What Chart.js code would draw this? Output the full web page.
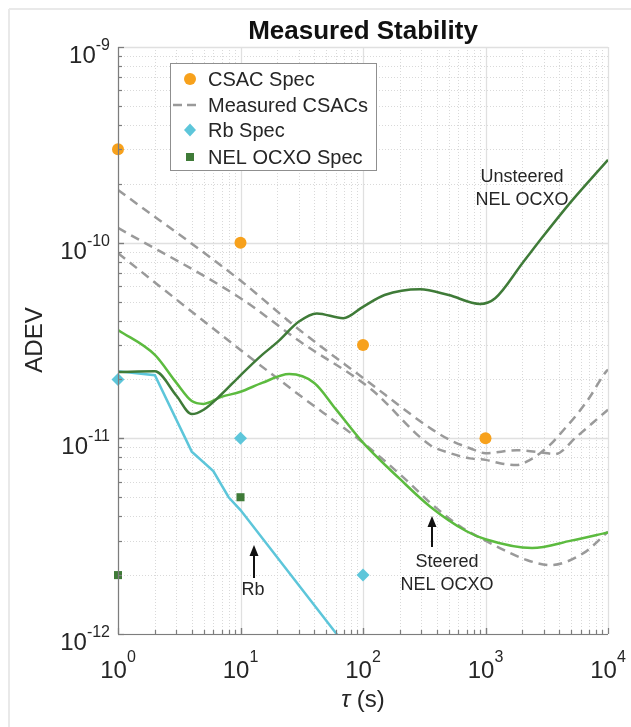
<!DOCTYPE html>
<html><head><meta charset="utf-8">
<script src="https://cdn.jsdelivr.net/npm/chart.js@4.4.1/dist/chart.umd.min.js"></script>
<style>html,body{margin:0;padding:0;background:#fff;}#wrap{width:631px;height:727px;position:relative;}</style>
</head><body><div id="wrap"><canvas id="c" width="631" height="727"></canvas></div>
<script>
// ---------------- data ----------------
const csacSpecTau = [1, 10, 100, 1000];
const csacSpecAdev = [3e-10, 1e-10, 3e-11, 1e-11];
const rbSpecTau = [1, 10, 100];
const rbSpecAdev = [2e-11, 1e-11, 2e-12];
const ocxoSpecTau = [1, 10];
const ocxoSpecAdev = [2e-12, 5e-12];

const csacATau = [1, 10, 30, 104, 352, 513, 747, 1000, 1800, 2970, 3690, 5550, 9200, 10000];
const csacAAdev = [1.86e-10, 6.4e-11, 3.6e-11, 2.0e-11, 1.13e-11, 9.8e-12, 8.9e-12, 8.4e-12, 8.7e-12, 8.45e-12, 8.3e-12, 1.02e-11, 1.34e-11, 1.4e-11];
const csacBTau = [1, 10, 30, 118, 352, 513, 747, 1000, 1310, 1800, 2310, 2790, 3360, 4320, 5550, 7130, 9200, 10000];
const csacBAdev = [1.19e-10, 5.2e-11, 3.15e-11, 1.77e-11, 9.25e-12, 8.4e-12, 7.9e-12, 7.76e-12, 7.46e-12, 7.3e-12, 7.76e-12, 8.4e-12, 9.25e-12, 1.1e-11, 1.32e-11, 1.63e-11, 2.11e-11, 2.25e-11];
const csacCTau = [1, 10, 30, 100, 227, 352, 620, 1000, 1310, 2170, 3360, 6300, 10000];
const csacCAdev = [8.83e-11, 2.83e-11, 1.67e-11, 9.5e-12, 6.1e-12, 4.7e-12, 3.55e-12, 3.0e-12, 2.75e-12, 2.39e-12, 2.25e-12, 2.59e-12, 3.33e-12];

const unsteeredTau = [1, 2, 3, 4, 5, 7, 10, 15, 20, 30, 42, 69, 100, 150, 292, 500, 902, 1200, 2000, 3000, 5000, 10000];
const unsteeredAdev = [2.18e-11, 2.2e-11, 1.65e-11, 1.33e-11, 1.4e-11, 1.68e-11, 2.1e-11, 2.67e-11, 3.1e-11, 3.95e-11, 4.35e-11, 4.11e-11, 4.7e-11, 5.4e-11, 5.78e-11, 5.4e-11, 4.86e-11, 5.2e-11, 7.85e-11, 1.09e-10, 1.62e-10, 2.65e-10];
const steeredTau = [1, 2, 3, 4, 5, 7, 10, 15, 25, 40, 60, 100, 200, 350, 700, 1000, 2400, 5000, 10000];
const steeredAdev = [3.58e-11, 2.67e-11, 1.92e-11, 1.55e-11, 1.5e-11, 1.63e-11, 1.73e-11, 1.92e-11, 2.13e-11, 1.92e-11, 1.41e-11, 9.5e-12, 6.2e-12, 4.5e-12, 3.35e-12, 3.05e-12, 2.75e-12, 3.0e-12, 3.3e-12];
const rbTau = [1, 2, 4, 6, 8, 10, 100];
const rbAdev = [2.2e-11, 2.1e-11, 8.55e-12, 6.8e-12, 5.0e-12, 4.3e-12, 6.7e-13];

const xTickExponents = [0, 1, 2, 3, 4];
const yTickExponents = [-12, -11, -10, -9];
const legendLabels = ['CSAC Spec', 'Measured CSACs', 'Rb Spec', 'NEL OCXO Spec'];

// ---------------- styles ----------------
const C_ORANGE = '#f7a11c', C_CYAN = '#5dc6da', C_DARK = '#3f7b38', C_LIGHT = '#5cbb3f', C_GRAY = '#9a9a9a';
const FONT = '"Liberation Sans", Arial, Helvetica, sans-serif';
const TXT = '#262626';

const pts = (t, v) => t.map((tt, i) => ({x: tt, y: v[i]}));

const markerBase = {showLine: false, clip: false, borderWidth: 0};
const lineBase = {showLine: true, pointRadius: 0, pointHoverRadius: 0, borderWidth: 2.5, fill: false};

const datasets = [
  Object.assign({label: 'CSAC Spec', data: pts(csacSpecTau, csacSpecAdev), pointStyle: 'circle', pointRadius: 6, backgroundColor: C_ORANGE, borderColor: C_ORANGE}, markerBase),
  Object.assign({label: 'Rb Spec', data: pts(rbSpecTau, rbSpecAdev), pointStyle: 'rectRot', pointRadius: 6.5, backgroundColor: C_CYAN, borderColor: C_CYAN}, markerBase),
  Object.assign({label: 'NEL OCXO Spec', data: pts(ocxoSpecTau, ocxoSpecAdev), pointStyle: 'rect', pointRadius: 5.7, backgroundColor: C_DARK, borderColor: C_DARK}, markerBase),
  Object.assign({label: 'Unsteered', data: pts(unsteeredTau, unsteeredAdev), borderColor: C_DARK, cubicInterpolationMode: 'monotone'}, lineBase),
  Object.assign({label: 'Steered', data: pts(steeredTau, steeredAdev), borderColor: C_LIGHT, cubicInterpolationMode: 'monotone'}, lineBase),
  Object.assign({label: 'Rb', data: pts(rbTau, rbAdev), borderColor: C_CYAN, tension: 0}, lineBase),
  Object.assign({label: 'Measured CSACs', data: pts(csacATau, csacAAdev), borderColor: C_GRAY, borderDash: [9, 6], cubicInterpolationMode: 'monotone'}, lineBase),
  Object.assign({label: 'Measured CSACs 2', data: pts(csacBTau, csacBAdev), borderColor: C_GRAY, borderDash: [9, 6], cubicInterpolationMode: 'monotone'}, lineBase),
  Object.assign({label: 'Measured CSACs 3', data: pts(csacCTau, csacCAdev), borderColor: C_GRAY, borderDash: [9, 6], cubicInterpolationMode: 'monotone'}, lineBase),
];

function hline(ctx, x0, x1, y) { ctx.beginPath(); ctx.moveTo(x0, y); ctx.lineTo(x1, y); ctx.stroke(); }
function vline(ctx, x, y0, y1) { ctx.beginPath(); ctx.moveTo(x, y0); ctx.lineTo(x, y1); ctx.stroke(); }

function powLabel(ctx, exp, x, baseY, expY, align) {
  ctx.font = '24px ' + FONT;
  const wb = ctx.measureText('10').width;
  ctx.font = '16px ' + FONT;
  const es = String(exp).replace('-', '-');
  const we = ctx.measureText(es).width;
  let start;
  if (align === 'right') start = x - wb - we; else start = x - (wb + we) / 2;
  ctx.textAlign = 'left'; ctx.textBaseline = 'alphabetic';
  ctx.font = '24px ' + FONT; ctx.fillText('10', start, baseY);
  ctx.font = '16px ' + FONT; ctx.fillText(es, start + wb, expY);
}

function arrowUp(ctx, x, yBottom, yTip) {
  ctx.save();
  ctx.strokeStyle = '#111'; ctx.fillStyle = '#111'; ctx.lineWidth = 2;
  vline(ctx, x, yBottom, yTip + 8);
  ctx.beginPath(); ctx.moveTo(x, yTip); ctx.lineTo(x - 4.5, yTip + 11); ctx.lineTo(x + 4.5, yTip + 11); ctx.closePath(); ctx.fill();
  ctx.restore();
}

const decor = {
  id: 'decor',
  beforeDraw(chart) {
    const ctx = chart.ctx;
    ctx.save();
    ctx.fillStyle = '#fff'; ctx.fillRect(0, 0, chart.width, chart.height);
    ctx.strokeStyle = '#e9e9e9'; ctx.lineWidth = 2;
    vline(ctx, 9, 9, chart.height); hline(ctx, 9, chart.width, 9);
    ctx.restore();
  },
  beforeDatasetsDraw(chart) {
    const {ctx, chartArea: a, scales: {x, y}} = chart;
    ctx.save();
    ctx.lineWidth = 1;
    ctx.strokeStyle = '#d9d9d9'; ctx.setLineDash([1, 2]);
    for (let e = 0; e < 4; e++) for (let m = 2; m <= 9; m++) {
      const px = Math.round(x.getPixelForValue(m * Math.pow(10, e))) + 0.5; vline(ctx, px, a.top, a.bottom);
    }
    for (let e = -12; e < -9; e++) for (let m = 2; m <= 9; m++) {
      const py = Math.round(y.getPixelForValue(m * Math.pow(10, e))) + 0.5; hline(ctx, a.left, a.right, py);
    }
    ctx.setLineDash([]); ctx.strokeStyle = '#e0e0e0'; ctx.lineWidth = 1.3;
    xTickExponents.forEach(e => vline(ctx, Math.round(x.getPixelForValue(Math.pow(10, e))) + 0.5, a.top, a.bottom));
    yTickExponents.forEach(e => hline(ctx, a.left, a.right, Math.round(y.getPixelForValue(Math.pow(10, e))) + 0.5));
    ctx.restore();
  },
  afterDatasetsDraw(chart) {
    const {ctx, chartArea: a, scales: {x, y}} = chart;
    ctx.save();
    ctx.strokeStyle = '#7d7d7d'; ctx.lineWidth = 1.2;
    vline(ctx, a.left + 0.5, a.top, a.bottom + 0.5); hline(ctx, a.left, a.right, a.bottom + 0.5);
    for (let e = 0; e < 4; e++) for (let m = 1; m <= 10; m++) {
      const px = Math.round(x.getPixelForValue(m * Math.pow(10, e))) + 0.5;
      vline(ctx, px, a.bottom, a.bottom - (m === 1 || m === 10 ? 6 : 4));
    }
    for (let e = -12; e < -9; e++) for (let m = 1; m <= 10; m++) {
      const py = Math.round(y.getPixelForValue(m * Math.pow(10, e))) + 0.5;
      hline(ctx, a.left, a.left + (m === 1 || m === 10 ? 6 : 4), py);
    }
    ctx.restore();
  },
  afterDraw(chart) {
    const {ctx, chartArea: a, scales: {x, y}} = chart;
    ctx.save();
    ctx.fillStyle = TXT;
    // tick labels
    xTickExponents.forEach(e => powLabel(ctx, e, x.getPixelForValue(Math.pow(10, e)), 678, 662, 'center'));
    yTickExponents.forEach(e => { const py = y.getPixelForValue(Math.pow(10, e)); powLabel(ctx, e, 110, py + 16, py + 3, 'right'); });
    // axis titles
    ctx.textBaseline = 'middle';
    ctx.font = 'italic 24px ' + FONT;
    const wt = ctx.measureText('\u03C4').width;
    ctx.font = '24px ' + FONT;
    const ws = ctx.measureText(' (s)').width;
    const cx = (a.left + a.right) / 2;
    const sx = cx - (wt + ws) / 2;
    ctx.textAlign = 'left';
    ctx.font = 'italic 24px ' + FONT; ctx.fillText('\u03C4', sx, 700);
    ctx.font = '24px ' + FONT; ctx.fillText(' (s)', sx + wt, 700);
    ctx.save(); ctx.translate(35, 340); ctx.rotate(-Math.PI / 2); ctx.textAlign = 'center'; ctx.fillText('ADEV', 0, 0); ctx.restore();
    // title
    ctx.fillStyle = '#111'; ctx.font = 'bold 26px ' + FONT; ctx.textAlign = 'center'; ctx.textBaseline = 'alphabetic';
    ctx.fillText('Measured Stability', cx, 39);
    // legend
    ctx.fillStyle = '#fff'; ctx.fillRect(170.5, 63.5, 206, 107);
    ctx.strokeStyle = '#8f8f8f'; ctx.lineWidth = 1; ctx.strokeRect(170.5, 63.5, 206, 107);
    const rows = [79, 105, 130, 157];
    ctx.fillStyle = C_ORANGE; ctx.beginPath(); ctx.arc(190, rows[0], 6, 0, Math.PI * 2); ctx.fill();
    ctx.strokeStyle = C_GRAY; ctx.lineWidth = 2.5; ctx.setLineDash([9, 5]); hline(ctx, 173, 197, rows[1]); ctx.setLineDash([]);
    ctx.fillStyle = C_CYAN; ctx.beginPath(); ctx.moveTo(190, rows[2] - 6.5); ctx.lineTo(196, rows[2]); ctx.lineTo(190, rows[2] + 6.5); ctx.lineTo(184, rows[2]); ctx.closePath(); ctx.fill();
    ctx.fillStyle = C_DARK; ctx.fillRect(186, rows[3] - 4, 8, 8);
    ctx.fillStyle = TXT; ctx.font = '20px ' + FONT; ctx.textAlign = 'left'; ctx.textBaseline = 'middle';
    legendLabels.forEach((t, i) => ctx.fillText(t, 208, rows[i] + 1));
    // annotations
    ctx.font = '18px ' + FONT; ctx.textAlign = 'center';
    ctx.fillText('Unsteered', 522, 177); ctx.fillText('NEL OCXO', 522, 200);
    ctx.fillText('Steered', 447, 562); ctx.fillText('NEL OCXO', 447, 585);
    ctx.fillText('Rb', 253, 590);
    arrowUp(ctx, 254, 578, 545);
    arrowUp(ctx, 432, 547, 516);
    ctx.restore();
  }
};

new Chart(document.getElementById('c'), {
  type: 'scatter',
  data: {datasets},
  options: {
    responsive: false,
    animation: false,
    devicePixelRatio: 1,
    layout: {padding: {left: 118, right: 23, top: 47, bottom: 93}},
    plugins: {legend: {display: false}, tooltip: {enabled: false}, title: {display: false}},
    scales: {
      x: {type: 'logarithmic', min: 1, max: 10000, display: false},
      y: {type: 'logarithmic', min: 1e-12, max: 1e-9, display: false}
    }
  },
  plugins: [decor]
});
</script></body></html>
